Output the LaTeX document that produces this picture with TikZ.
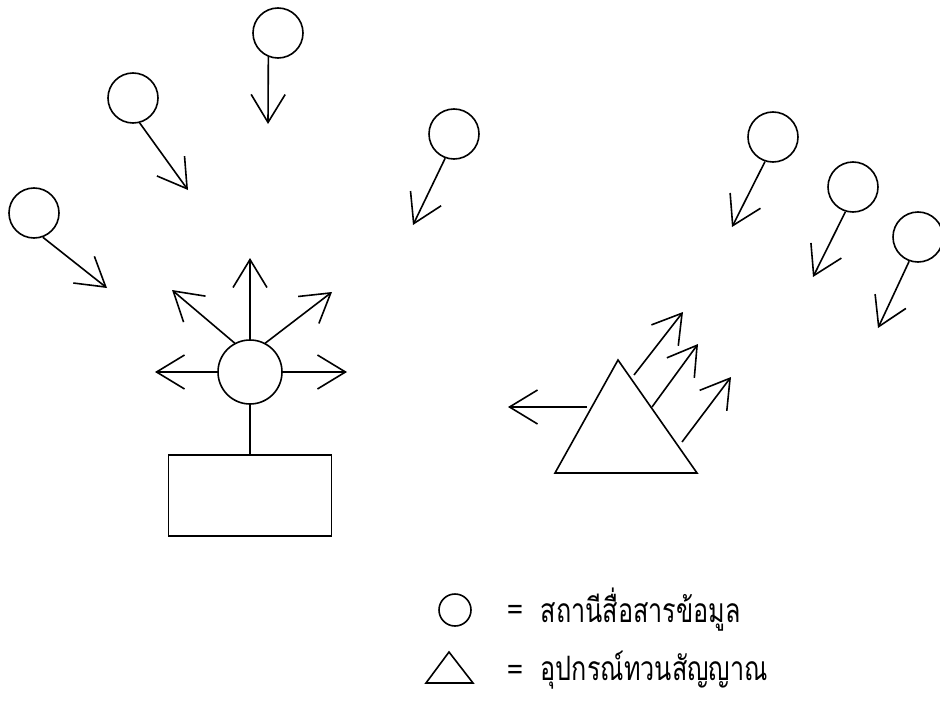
\documentclass[tikz,border=0pt]{standalone}
\usepackage{fontspec}
\newfontfamily\thaifont[Script=Thai]{Loma}
\usetikzlibrary{arrows.meta}
\newcommand{\legtext}[1]{\scalebox{0.9}[1.2]{#1}}
\begin{document}
\begin{tikzpicture}[x=1pt,y=-1pt,line width=1.6pt,
  stn/.style={draw,circle,minimum size=50pt,inner sep=0pt},
  hubc/.style={draw,circle,minimum size=64pt,inner sep=0pt},
  arr/.style={-{Straight Barb[length=28pt,width=34pt,line width=1.6pt]}},
  lbl/.style={anchor=west,inner sep=0pt,font=\thaifont\fontsize{28}{30}\selectfont}]
\useasboundingbox (0,0) rectangle (940,701);
% incoming stations (left group)
\node[stn] (c1) at (278,33) {};
\node[stn] (c2) at (133,98) {};
\node[stn] (c3) at (34,213) {};
\node[stn] (c4) at (454,134) {};
\coordinate (t1) at (268,124);
\coordinate (t2) at (188,190);
\coordinate (t3) at (107,288);
\coordinate (t4) at (413,225);
\draw[arr] (c1.-112) -- (t1);
\draw[arr] (c2.-75) -- (t2);
\draw[arr] (c3.-70) -- (t3);
\draw[arr] (c4.-110) -- (t4);
% right group stations
\node[stn] (cA) at (773,137) {};
\node[stn] (cB) at (853,187) {};
\node[stn] (cC) at (918,237) {};
\coordinate (tA) at (732,227);
\coordinate (tB) at (813,277);
\coordinate (tC) at (878,328);
\draw[arr] (cA.-108) -- (tA);
\draw[arr] (cB.-107) -- (tB);
\draw[arr] (cC.-110) -- (tC);
% hub station
\node[hubc] (hub) at (250,372) {};
\coordinate (h1) at (250,258);
\coordinate (h2) at (172,290);
\coordinate (h3) at (332,292);
\coordinate (h4) at (155,372);
\coordinate (h5) at (347,372);
\draw[arr] (hub.90) -- (h1);
\draw[arr] (hub.118) -- (h2);
\draw[arr] (hub.62) -- (h3);
\draw[arr] (hub.180) -- (h4);
\draw[arr] (hub.0) -- (h5);
\node[draw,rectangle,minimum width=163pt,minimum height=81pt,inner sep=0pt] (box) at (250,495.5) {};
\draw (hub) -- (box);
% repeater triangle
\coordinate (ta) at (618,360);
\coordinate (tl) at (555,473);
\coordinate (tr) at (697,473);
\draw[line join=miter] (ta) -- (tl) -- (tr) -- cycle;
\coordinate (s0) at (587,407);
\coordinate (e0) at (508,407);
\coordinate (s1) at (634,375);
\coordinate (e1) at (683,312);
\coordinate (s2) at (652,407);
\coordinate (e2) at (698,344);
\coordinate (s3) at (682,442);
\coordinate (e3) at (731,377);
\draw[arr] (s0) -- (e0);
\draw[arr] (s1) -- (e1);
\draw[arr] (s2) -- (e2);
\draw[arr] (s3) -- (e3);
% legend
\node[draw,circle,minimum size=32pt,inner sep=0pt] (lc) at (455,610) {};
\coordinate (la) at (449,652);
\coordinate (ll) at (426,683);
\coordinate (lr) at (473,683);
\draw (la) -- (ll) -- (lr) -- cycle;
\node[lbl] (eq1) at (506,612) {=};
\node[lbl] (txt1) at (540,610) {\legtext{สถานีสื่อสารข้อมูล}};
\node[lbl] (eq2) at (506,672) {=};
\node[lbl] (txt2) at (540,670) {\legtext{อุปกรณ์ทวนสัญญาณ}};
\end{tikzpicture}
\end{document}
